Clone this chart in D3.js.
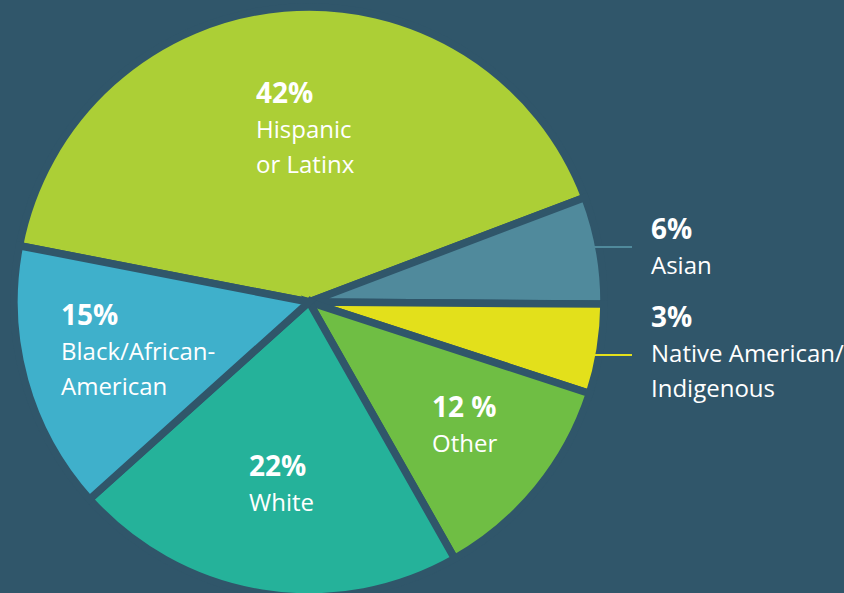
<!DOCTYPE html>
<html>
<head>
<meta charset="utf-8">
<script src="https://cdn.jsdelivr.net/npm/d3@7"></script>
<style>
  html, body { margin: 0; padding: 0; background: #30566a; }
  svg { display: block; }
</style>
</head>
<body>
<svg id="pie-chart"></svg>
<script>
// slices in drawing order, clockwise from the top-left
var groups = ["Hispanic", "Asian", "Native", "Other", "White", "Black"];
var shares = [42, 6, 5, 12, 22, 15]; // slice sizes as drawn
var pctLabels = ["42%", "6%", "3%", "12 %", "22%", "15%"];
var nameLines = [
    ["Hispanic", "or Latinx"],
    ["Asian"],
    ["Native American/", "Indigenous"],
    ["Other"],
    ["White"],
    ["Black/African-", "American"]
];
var colors = ["#accf36", "#508a9c", "#e3e01b", "#6fbe44", "#25b29a", "#3fb0cb"];

drawChart();

function drawChart() {
    var svgWidth = 844, svgHeight = 593;
    var bg = "#30566a";

    var svg = d3.select("#pie-chart")
        .attr("width", svgWidth)
        .attr("height", svgHeight);

    svg.append("rect")
        .attr("width", svgWidth)
        .attr("height", svgHeight)
        .attr("fill", bg);

    var g = svg.append("g")
        .attr("transform", "translate(309,302)");

    var pie = d3.pie()
        .sort(null)
        .startAngle(-79 * Math.PI / 180)
        .endAngle(281 * Math.PI / 180);

    var arc = d3.arc()
        .innerRadius(0)
        .outerRadius(295);

    var data = pie(shares);

    g.selectAll("path")
        .data(data)
        .enter()
        .append("path")
        .attr("d", arc)
        .attr("fill", function(d, i) { return colors[i]; })
        .attr("stroke", bg)
        .attr("stroke-width", 7.5)
        .attr("stroke-linejoin", "miter");

    // label anchors (left x, baseline of the percent line)
    var labelPos = [[256, 103], [651, 239], [651, 327], [432, 417], [249, 476], [61, 325]];

    // leader lines for the two small slices
    [1, 2].forEach(function(i) {
        var y0 = labelPos[i][1] + (i == 1 ? 8 : 28);
        var x0 = 309 + Math.sqrt(Math.max(0, 291 * 291 - (y0 - 302) * (y0 - 302)));
        svg.append("line")
            .attr("x1", x0 - 4)
            .attr("x2", 632)
            .attr("y1", y0)
            .attr("y2", y0)
            .attr("stroke", colors[i])
            .attr("stroke-width", 2);
    });

    groups.forEach(function(name, i) {
        var t = svg.append("text")
            .attr("x", labelPos[i][0])
            .attr("y", labelPos[i][1])
            .attr("fill", "#fff")
            .style("font-family", "'Open Sans', 'Noto Sans', sans-serif");

        t.append("tspan")
            .attr("x", labelPos[i][0])
            .style("font-size", "28px")
            .style("font-weight", "bold")
            .text(pctLabels[i]);

        nameLines[i].forEach(function(line) {
            t.append("tspan")
                .attr("x", labelPos[i][0])
                .attr("dy", 35)
                .style("font-size", "24px")
                .text(line);
        });
    });
}
</script>
</body>
</html>
